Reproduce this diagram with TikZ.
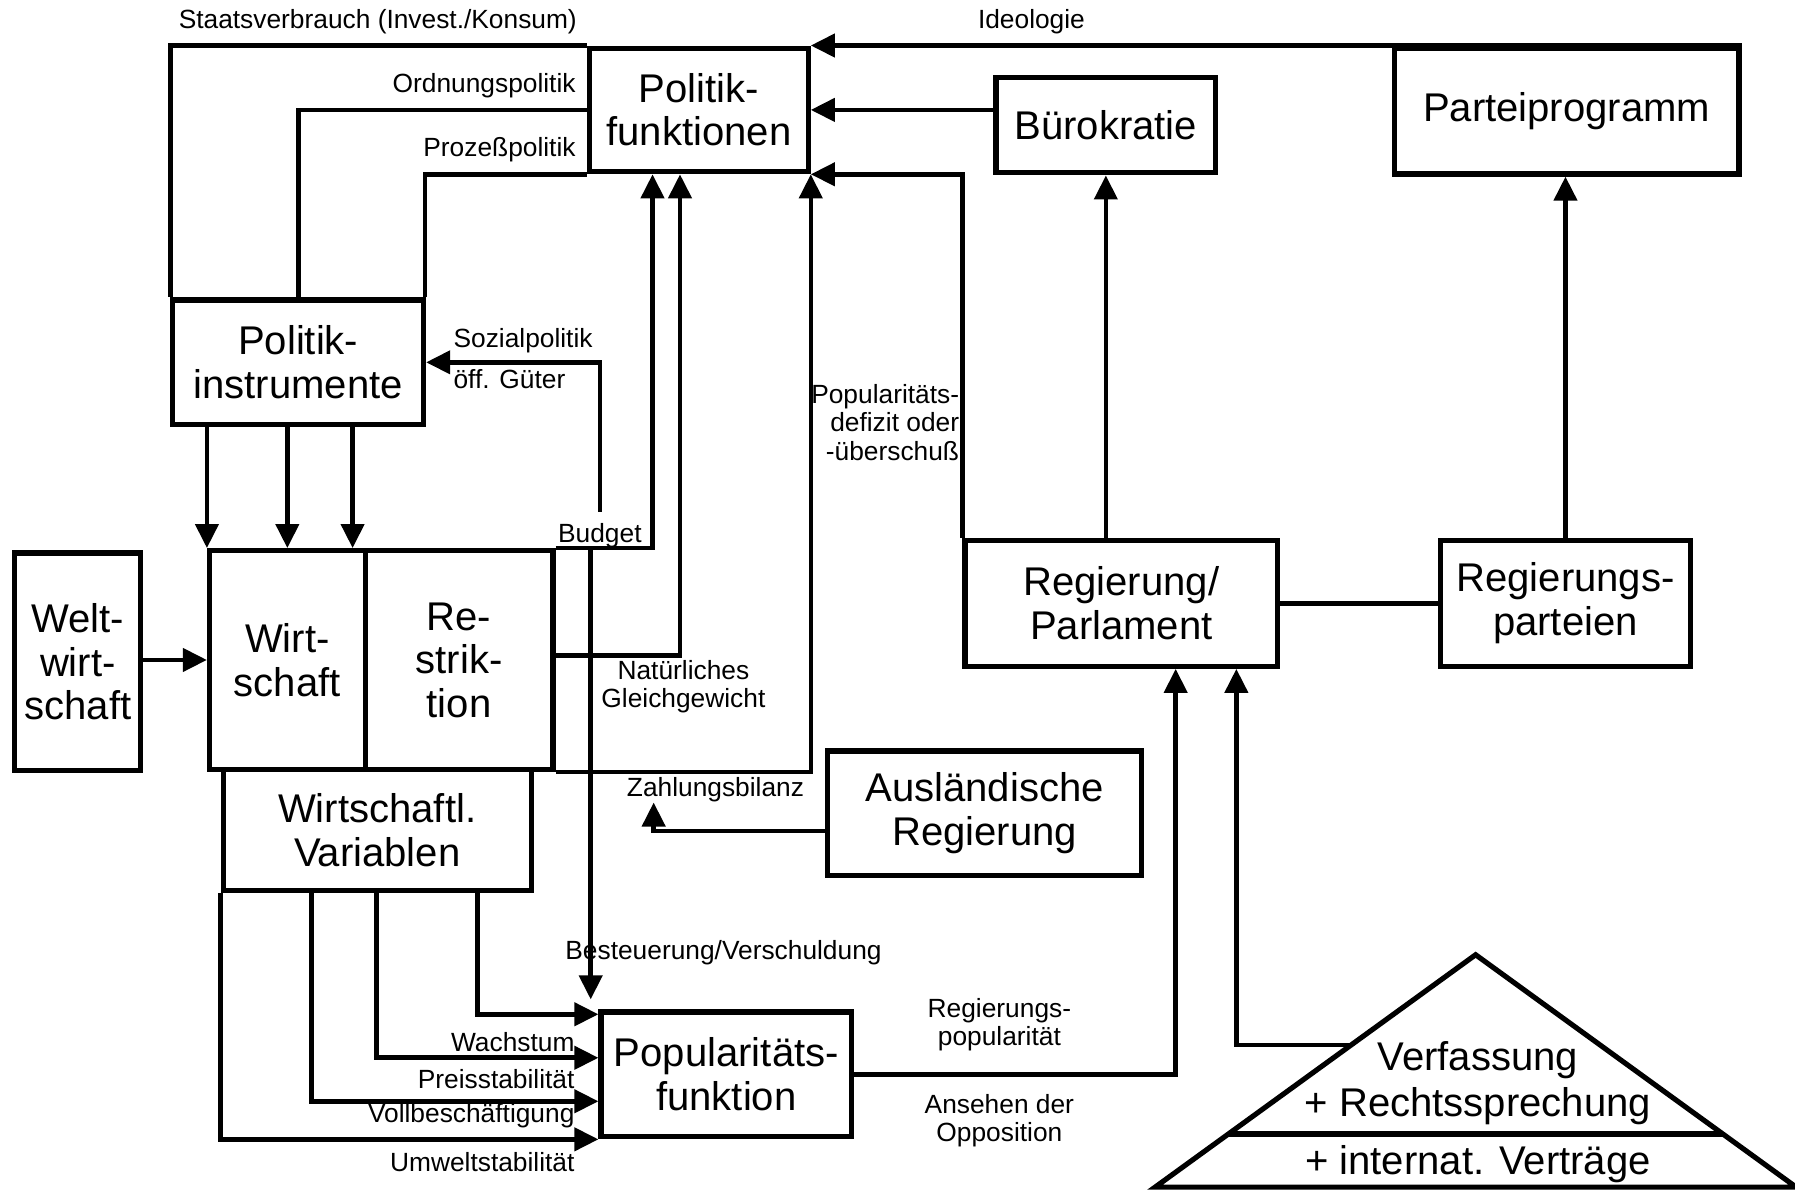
\documentclass[tikz,border=0pt]{standalone}
\usepackage{fontspec}
\setmainfont{Liberation Sans}
\usetikzlibrary{arrows.meta}
\newcommand\bigtxt{\fontsize{35}{38}\selectfont}
\newcommand\smalltxt{\fontsize{23}{25}\selectfont}
\begin{document}
\begin{tikzpicture}[x=1pt,y=-1pt,
  box/.style={draw, line width=4.5pt, inner sep=0pt, align=center, font=\bigtxt},
  conn/.style={line width=4pt},
  arr/.style={line width=4pt, -{Triangle[length=21pt,width=20pt]}},
  lbl/.style={inner sep=0pt, font=\smalltxt, align=center}]
\useasboundingbox (0,0) rectangle (1568,1039);
\fill[white] (0,0) rectangle (1568,1039);

% boxes
\node[box, minimum width=191, minimum height=108] (pfun)  at (610.5,96)   {Politik-\\funktionen};
\node[box, minimum width=192, minimum height=83]  (buro)  at (966,109.5)  {Bürokratie};
\node[box, minimum width=301, minimum height=110] (ppro)  at (1368.5,97)  {Parteiprogramm};
\node[box, minimum width=219, minimum height=109] (pins)  at (260.5,316.5){Politik-\\instrumente};
\node[box, minimum width=136, minimum height=191] (wirt)  at (251,576.5)  {Wirt-\\schaft};
\node[box, minimum width=164, minimum height=191] (restr) at (401,576.5)  {Re-\\strik-\\tion};
\node[box, minimum width=110, minimum height=190] (welt)  at (68,578)     {Welt-\\wirt-\\schaft};
\node[box, minimum width=269, minimum height=106] (wvar)  at (329.5,725)  {Wirtschaftl.\\Variablen};
\node[box, minimum width=274, minimum height=109] (ausl)  at (860,710.5)  {Ausländische\\Regierung};
\node[box, minimum width=219, minimum height=109] (pop)   at (634.5,938.5){Popularitäts-\\funktion};
\node[box, minimum width=273, minimum height=110] (regp)  at (979.5,527)  {Regierung/\\Parlament};
\node[box, minimum width=219, minimum height=110] (rpar)  at (1367.5,527) {Regierungs-\\parteien};

% constitution pyramid
\draw[line width=4.5pt, line join=miter] (1289,834) -- (1569,1037) -- (1009,1037) -- cycle;
\draw[line width=4.5pt] (1073,990.6) -- (1505,990.6);
\node[lbl, font=\bigtxt] (verf) at (1291,926)  {Verfassung};
\node[lbl, font=\bigtxt] (rech) at (1291,966)  {+ Rechtssprechung};
\node[lbl, font=\bigtxt] (intv) at (1291,1017) {+ internat. Verträge};

% bend points and free ends
\coordinate (xb) at (570,0);
\coordinate (xn) at (594,0);
\coordinate (x3) at (308,0);
\coordinate (sozend) at (524,447);
\coordinate (bst) at (516,873);
\coordinate (zb) at (571,701);
\coordinate (w1) at (417,886);
\coordinate (w2) at (329,924);
\coordinate (w3) at (272,962);
\coordinate (r1) at (1027,0);
\coordinate (r2) at (1080,0);
\coordinate (tri) at (1180,913);

% policy loops
\draw[conn] (pfun.north west) -| (pins.north west);
\draw[conn] (pfun.west) -| (pins.north);
\draw[conn] (pfun.south west) -| ([xshift=-1pt]pins.north east);

% inputs to Politikfunktionen
\draw[arr] (ppro.north east) -- (pfun.north east);
\draw[arr] (buro.west |- pfun.east) -- (pfun.east);
\draw[arr] (regp.north west) |- (pfun.south east);
\draw[arr] (restr.north east) -| (pfun.south -| xb);
\draw[arr] ([yshift=4pt]restr.east) -| (pfun.south -| xn);
\draw[arr] (restr.south east) -| (pfun.south east);

% government side
\draw[arr] (regp.north -| buro.south) -- (buro.south);
\draw[arr] (rpar.north) -- (rpar.north |- ppro.south);
\draw[conn] (regp.east) -- (rpar.west);

% economy
\draw[arr] (welt.east |- wirt.west) -- (wirt.west);
\draw[arr] (pins.south -| wirt.north west) -- (wirt.north west);
\draw[arr] (pins.south -| wirt.north) -- (wirt.north);
\draw[arr] (pins.south -| x3) -- (wirt.north -| x3);
\draw[arr] (sozend) |- (pins.east);
\draw[arr] (restr.north east -| bst) -- (bst);
\draw[arr] ([yshift=-15.5pt]ausl.west) -| (zb);

% economic variables to popularity
\draw[arr] (wvar.south -| w1) |- (pop.west |- w1);
\draw[arr] (wvar.south -| w2) |- (pop.west |- w2);
\draw[arr] (wvar.south -| w3) |- (pop.west |- w3);
\draw[arr] (wvar.south west) |- (pop.south west);

% popularity and constitution to government
\draw[arr] (pop.east) -| (regp.south -| r1);
\draw[arr] (tri) -| (regp.south -| r2);

% labels
\node[lbl] (l1)  at (330,19)  {Staatsverbrauch (Invest./Konsum)};
\node[lbl] (l2)  at (901,19)  {Ideologie};
\node[lbl, anchor=east] (l3) at (503,75)  {Ordnungspolitik};
\node[lbl, anchor=east] (l4) at (503,131) {Prozeßpolitik};
\node[lbl, anchor=west] (l5) at (396,298) {Sozialpolitik};
\node[lbl, anchor=west] (l6) at (396,331) {öff. Güter};
\node[lbl] (l7)  at (524,468) {Budget};
\node[lbl] (l8)  at (597,600) {Natürliches\\Gleichgewicht};
\node[lbl, anchor=east, align=right] (l9) at (838,369) {Popularitäts-\\defizit oder\\-überschuß};
\node[lbl] (l10) at (625,690) {Zahlungsbilanz};
\node[lbl] (l11) at (632,832) {Besteuerung/Verschuldung};
\node[lbl, anchor=east] (l12) at (502,910)  {Wachstum};
\node[lbl, anchor=east] (l13) at (502,943)  {Preisstabilität};
\node[lbl, anchor=east] (l14) at (502,975)  {Vollbeschäftigung};
\node[lbl, anchor=east] (l15) at (502,1015) {Umweltstabilität};
\node[lbl] (l16) at (873,895) {Regierungs-\\popularität};
\node[lbl] (l17) at (873,979) {Ansehen der\\Opposition};
\end{tikzpicture}
\end{document}
